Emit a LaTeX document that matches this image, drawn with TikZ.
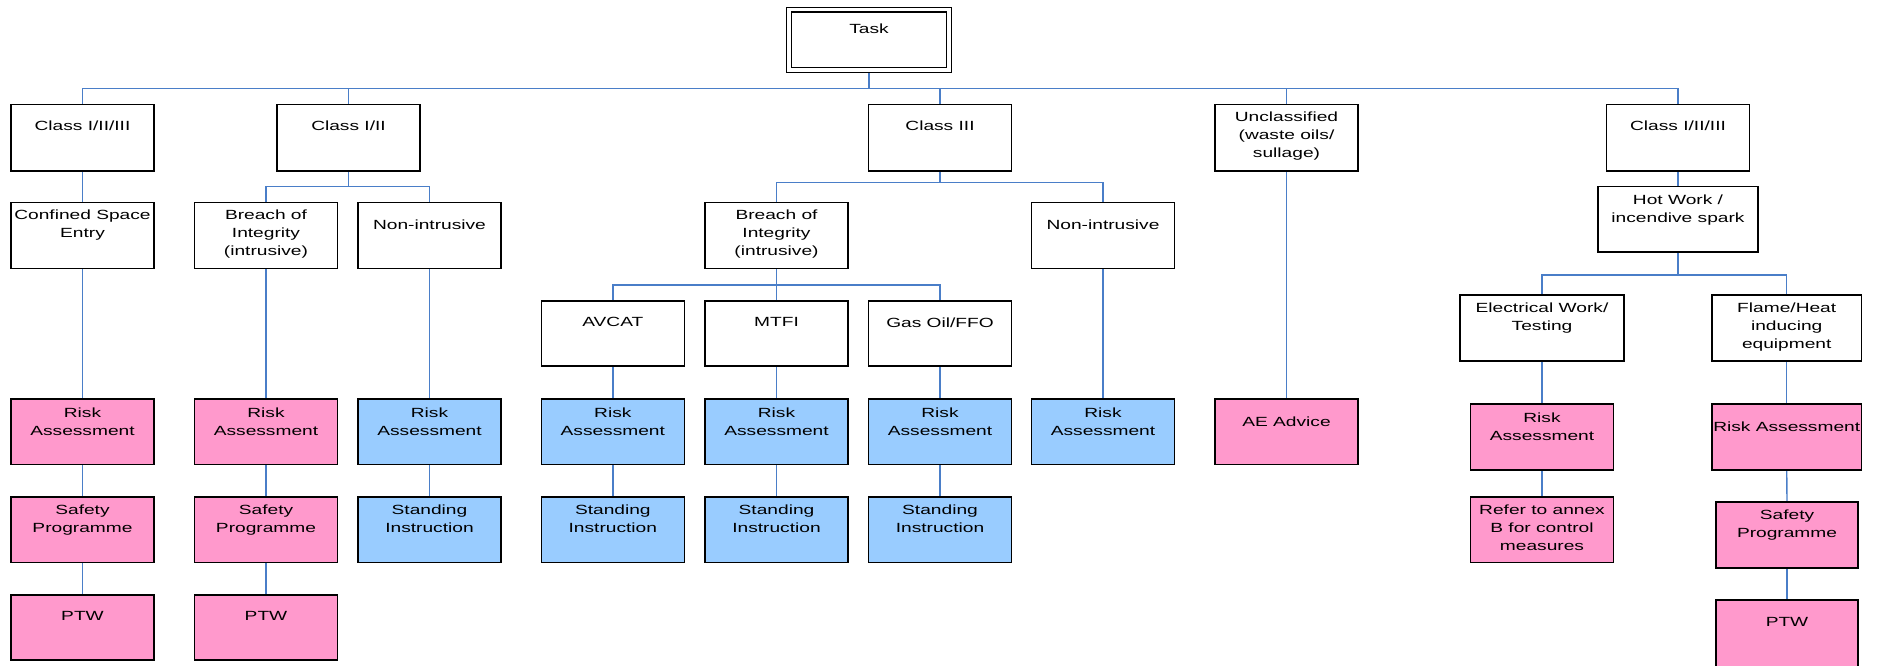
\documentclass[tikz,border=0pt]{standalone}
\usepackage{fontspec}
\setmainfont{Liberation Sans}[FakeStretch=1.44]
\usetikzlibrary{backgrounds}
\definecolor{pinkf}{RGB}{255,153,204}
\definecolor{bluef}{RGB}{153,204,255}
\definecolor{connc}{RGB}{74,126,200}
\tikzset{
  box/.style={draw=black, line width=1.6pt, fill=white, outer sep=0pt, inner sep=0pt, rectangle},
  pk/.style={fill=pinkf},
  bl/.style={fill=bluef},
  wh/.style={fill=white},
  txt/.style={anchor=north, inner sep=0pt, outer sep=0pt, align=center, font=\fontsize{13.3pt}{18pt}\selectfont},
  conn/.style={draw=connc, line width=1.4pt},
  taskbox/.style={draw=black, double=white, double distance=3.2pt, line width=1.4pt, outer sep=0pt, inner sep=0pt, rectangle}
}
\newcommand\bx[8]{%
  \node[box,#2,minimum width=#5pt,minimum height=#6pt] (#1) at (#3,{#4+#6/2}) {};
  \node[txt] (#1-t) at ([yshift=-#7pt]#1.north) {#8};
}
\begin{document}
\begin{tikzpicture}[x=1pt,y=-1pt]
\useasboundingbox (0,0) rectangle (1881,665);
% Task
\node[taskbox,minimum width=160pt,minimum height=60.5pt] (task) at (869,39.8) {};
\node[txt] (task-t) at ([yshift=-14pt]task.north) {Task};
% Row 1
\bx{c1}{wh}{82.5}{104.3}{143}{66.4}{17}{Class I/II/III}
\bx{c2}{wh}{348.5}{104.3}{143}{66.4}{17}{Class I/II}
\bx{c3}{wh}{940}{104.3}{143}{66.4}{17}{Class III}
\bx{c4}{wh}{1286.5}{104.3}{143}{66.4}{8}{Unclassified\\(waste oils/\\sullage)}
\bx{c5}{wh}{1678}{104.3}{143}{66.4}{17}{Class I/II/III}
% Row 2
\bx{cse}{wh}{82.5}{202.3}{143}{66}{8}{Confined Space\\Entry}
\bx{b1}{wh}{266}{202.3}{143}{66}{8}{Breach of\\Integrity\\(intrusive)}
\bx{n1}{wh}{429.5}{202.3}{143}{66}{18}{Non-intrusive}
\bx{b2}{wh}{776.5}{202.3}{143}{66}{8}{Breach of\\Integrity\\(intrusive)}
\bx{n2}{wh}{1103}{202.3}{143}{66}{18}{Non-intrusive}
\bx{hw}{wh}{1678}{186.3}{160}{65.7}{9}{Hot Work /\\incendive spark}
% Row 3
\bx{av}{wh}{612.8}{300.7}{143}{65.3}{17}{AVCAT}
\bx{mt}{wh}{776.5}{300.7}{143}{65.3}{17}{MTFI}
\bx{go}{wh}{940}{300.7}{143}{65.3}{17}{Gas Oil/FFO}
\bx{el}{wh}{1542}{295}{164}{66}{8}{Electrical Work/\\Testing}
\bx{fl}{wh}{1786.7}{295}{149.5}{66}{8}{Flame/Heat\\inducing\\equipment}
% Risk assessment row
\bx{ra1}{pk}{82.5}{399}{143}{65.5}{9}{Risk\\Assessment}
\bx{ra2}{pk}{266}{399}{143}{65.5}{9}{Risk\\Assessment}
\bx{ra3}{bl}{429.5}{399}{143}{65.5}{9}{Risk\\Assessment}
\bx{ra4}{bl}{612.8}{399}{143}{65.5}{9}{Risk\\Assessment}
\bx{ra5}{bl}{776.5}{399}{143}{65.5}{9}{Risk\\Assessment}
\bx{ra6}{bl}{940}{399}{143}{65.5}{9}{Risk\\Assessment}
\bx{ra7}{bl}{1103}{399}{143}{65.5}{9}{Risk\\Assessment}
\bx{ae}{pk}{1286.5}{399}{143}{65.5}{17.5}{AE Advice}
\bx{ra8}{pk}{1542}{404}{143}{65.7}{8.7}{Risk\\Assessment}
\bx{ra9}{pk}{1786.7}{404}{149.5}{65.7}{18.3}{Risk Assessment}
% Safety / Standing row
\bx{sp1}{pk}{82.5}{496.7}{143}{65.6}{8.3}{Safety\\Programme}
\bx{sp2}{pk}{266}{496.7}{143}{65.6}{8.3}{Safety\\Programme}
\bx{si3}{bl}{429.5}{496.7}{143}{65.6}{8.3}{Standing\\Instruction}
\bx{si4}{bl}{612.8}{496.7}{143}{65.6}{8.3}{Standing\\Instruction}
\bx{si5}{bl}{776.5}{496.7}{143}{65.6}{8.3}{Standing\\Instruction}
\bx{si6}{bl}{940}{496.7}{143}{65.6}{8.3}{Standing\\Instruction}
\bx{ref}{pk}{1542}{496.7}{143}{65.6}{8.3}{Refer to annex\\B for control\\measures}
\bx{sp9}{pk}{1787}{502}{142}{65.7}{8}{Safety\\Programme}
% PTW row
\bx{ptw1}{pk}{82.5}{594.7}{143}{65.3}{17}{PTW}
\bx{ptw2}{pk}{266}{594.7}{143}{65.3}{17}{PTW}
\bx{ptw9}{pk}{1787}{600}{142}{68}{17.3}{PTW}
% Connectors
\begin{scope}[on background layer]
\coordinate (k0) at (869,88.3);
\draw[conn] (task.south) -- (k0);
\foreach \c in {c1,c2,c3,c4,c5} \draw[conn] (k0) -| (\c.north);
\draw[conn] (c1.south) -- (cse.north);
\coordinate (k2) at (348.5,186.5);
\draw[conn] (c2.south) -- (k2);
\draw[conn] (k2) -| (b1.north);
\draw[conn] (k2) -| (n1.north);
\coordinate (k3) at (940,182.3);
\draw[conn] (c3.south) -- (k3);
\draw[conn] (k3) -| (b2.north);
\draw[conn] (k3) -| (n2.north);
\draw[conn] (c4.south) -- (ae.north);
\draw[conn] (c5.south) -- (hw.north);
\coordinate (k5) at (1678,275);
\draw[conn] (hw.south) -- (k5);
\draw[conn] (k5) -| (el.north);
\draw[conn] (k5) -| (fl.north);
\coordinate (kb) at (776.5,285);
\draw[conn] (b2.south) -- (kb);
\draw[conn] (kb) -| (av.north);
\draw[conn] (kb) -| (mt.north);
\draw[conn] (kb) -| (go.north);
\draw[conn] (cse.south) -- (ra1.north);
\draw[conn] (ra1.south) -- (sp1.north);
\draw[conn] (sp1.south) -- (ptw1.north);
\draw[conn] (b1.south) -- (ra2.north);
\draw[conn] (ra2.south) -- (sp2.north);
\draw[conn] (sp2.south) -- (ptw2.north);
\draw[conn] (n1.south) -- (ra3.north);
\draw[conn] (ra3.south) -- (si3.north);
\draw[conn] (av.south) -- (ra4.north);
\draw[conn] (ra4.south) -- (si4.north);
\draw[conn] (mt.south) -- (ra5.north);
\draw[conn] (ra5.south) -- (si5.north);
\draw[conn] (go.south) -- (ra6.north);
\draw[conn] (ra6.south) -- (si6.north);
\draw[conn] (n2.south) -- (ra7.north);
\draw[conn] (el.south) -- (ra8.north);
\draw[conn] (ra8.south) -- (ref.north);
\draw[conn] (fl.south) -- (ra9.north);
\draw[conn] (ra9.south) -- (sp9.north);
\draw[conn] (sp9.south) -- (ptw9.north);
\end{scope}
\end{tikzpicture}
\end{document}
